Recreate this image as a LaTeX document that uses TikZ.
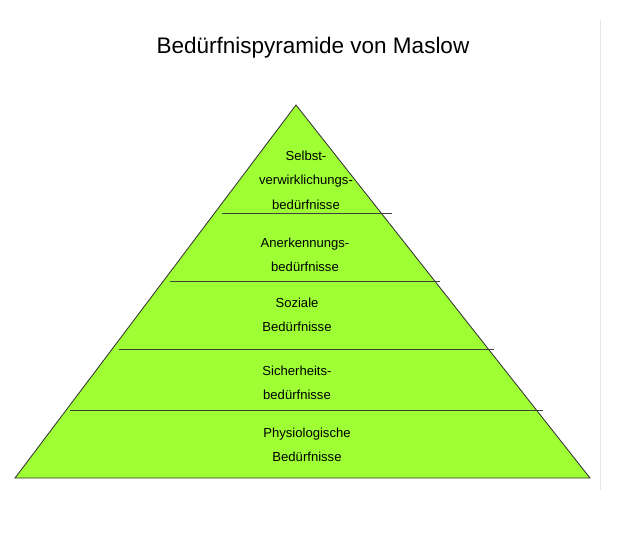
\documentclass[tikz,border=0pt]{standalone}
\usepackage{fontspec}
\setmainfont{Liberation Sans}
\begin{document}
\begin{tikzpicture}[x=0.025cm,y=-0.025cm,
  level/.style={font=\fontsize{9.3pt}{17.5pt}\selectfont,align=center},
  sep/.style={draw=black!75,line width=0.7pt}]
\useasboundingbox (0,0) rectangle (617,540);
\draw[black!10,line width=0.6pt] (600,20) -- (600,490);

\node[font=\fontsize{16pt}{18pt}\selectfont] (title) at (313,48) {Bedürfnispyramide von Maslow};

\coordinate (apex) at (296,105);
\coordinate (bl) at (15,478);
\coordinate (br) at (590,478);
\fill[color={rgb,255:red,158;green,255;blue,52}] (apex) -- (br) -- (bl) -- cycle;
\draw[black!80,line width=0.6pt] (apex) -- (br) -- (bl) -- cycle;

\draw[sep] (222,213) -- (392,213);
\draw[sep] (170,281) -- (440,281);
\draw[sep] (119,349) -- (494,349);
\draw[sep] (70,410) -- (543,410);

\node[level] (l5) at (306,180) {Selbst-\\verwirklichungs-\\bedürfnisse};
\node[level] (l4) at (305,255) {Anerkennungs-\\bedürfnisse};
\node[level] (l3) at (297,315) {Soziale\\Bedürfnisse};
\node[level] (l2) at (297,383) {Sicherheits-\\bedürfnisse};
\node[level] (l1) at (307,445) {Physiologische\\Bedürfnisse};
\end{tikzpicture}
\end{document}
